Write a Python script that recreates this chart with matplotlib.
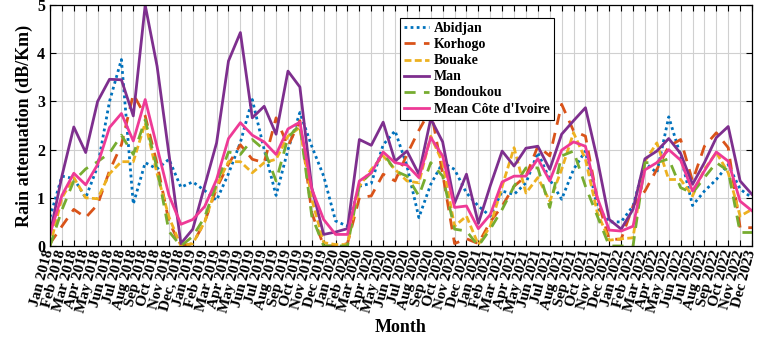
import numpy as np
import matplotlib
matplotlib.use("Agg")
import matplotlib.pyplot as plt

# === DATOS: atenuación por lluvia mensual (dB/Km) ===
months = ["Jan 2018", "Feb 2018", "Mar 2018", "Apr 2018", "May 2018", "Jun 2018",
          "Jul 2018", "Aug 2018", "Sep 2018", "Oct 2018", "Nov 2018", "Dec, 2018",
          "Jan 2019", "Feb 2019", "Mar 2019", "Apr 2019", "May 2019", "Jun 2019",
          "Jul 2019", "Aug 2019", "Sep 2019", "Oct 2019", "Nov 2019", "Dec 2019",
          "Jan 2020", "Feb 2020", "Mar 2020", "Apr 2020", "May 2020", "Jun 2020",
          "Jul 2020", "Aug 2020", "Sep 2020", "Oct 2020", "Nov 2020", "Dec 2020",
          "Jan 2021", "Feb 2021", "Mar 2021", "Apr 2021", "May 2021", "Jun 2021",
          "Jul 2021", "Aug 2021", "Sep 2021", "Oct 2021", "Nov 2021", "Dec 2021",
          "Jan 2022", "Feb 2022", "Mar 2022", "Apr 2022", "May 2022", "Jun 2022",
          "Jul 2022", "Aug 2022", "Sep 2022", "Oct 2022", "Nov 2022", "Dec 2023"]

abidjan = [0.6, 1.45, 1.4, 1.0, 1.65, 3.0, 3.87, 0.87, 1.73, 1.6, 1.8, 1.22,
           1.33, 1.15, 0.95, 1.5, 2.15, 3.04, 2.0, 1.05, 2.0, 2.77, 2.07, 1.45,
           0.52, 0.41, 1.24, 1.3, 2.1, 2.39, 1.66, 0.59, 1.28, 1.73, 1.59, 1.1,
           0.83, 0.62, 1.14, 1.07, 1.31, 1.94, 1.38, 0.97, 1.59, 1.97, 0.8, 0.5,
           0.5, 0.83, 1.73, 1.52, 2.68, 1.87, 0.84, 1.14, 1.38, 1.69, 1.18, 1.0]

korhogo = [0.05, 0.41, 0.76, 0.59, 0.86, 1.56, 2.1, 3.15, 2.7, 1.7, 0.5, 0.0,
           0.05, 0.5, 1.2, 1.7, 2.1, 1.8, 1.73, 2.66, 2.07, 2.6, 0.69, 0.0,
           0.0, 0.05, 1.0, 1.04, 1.49, 1.35, 1.9, 2.4, 2.84, 1.5, 0.05, 0.15,
           0.05, 0.5, 0.83, 1.24, 1.45, 2.07, 1.87, 2.94, 2.39, 2.28, 0.97, 0.14,
           0.14, 0.83, 1.14, 1.59, 2.07, 2.21, 1.35, 2.07, 2.35, 2.04, 0.38, 0.38]

bouake = [0.0, 1.0, 1.42, 1.0, 0.98, 1.5, 1.75, 1.75, 2.55, 1.5, 0.6, 0.0,
          0.05, 0.5, 1.25, 1.75, 1.75, 1.52, 1.73, 1.8, 2.28, 2.46, 0.97, 0.07,
          0.03, 0.03, 1.24, 1.59, 1.87, 1.59, 1.35, 1.31, 2.28, 1.73, 0.41, 0.62,
          0.03, 0.41, 1.24, 2.04, 1.1, 1.42, 0.93, 1.59, 2.35, 1.8, 0.69, 0.12,
          0.15, 0.17, 1.76, 2.14, 1.38, 1.38, 1.04, 1.59, 1.94, 1.52, 0.62, 0.76]

man = [0.25, 1.45, 2.47, 1.94, 3.0, 3.46, 3.45, 2.7, 5.0, 3.73, 1.9, 0.05,
       0.35, 1.25, 2.14, 3.84, 4.43, 2.66, 2.9, 2.32, 3.63, 3.3, 1.21, 0.24,
       0.29, 0.36, 2.21, 2.09, 2.57, 1.76, 1.97, 1.49, 2.64, 2.16, 0.89, 1.49,
       0.47, 1.25, 1.97, 1.66, 2.03, 2.07, 1.59, 2.32, 2.6, 2.87, 1.8, 0.55,
       0.35, 0.76, 1.81, 1.97, 2.23, 1.92, 1.28, 1.73, 2.25, 2.48, 1.35, 1.07]

bondoukou = [0.0, 0.75, 1.35, 1.6, 1.75, 1.93, 2.3, 1.9, 2.62, 1.6, 0.3, 0.0,
             0.2, 0.6, 1.3, 1.95, 1.9, 2.21, 2.0, 1.35, 2.25, 2.52, 0.62, 0.0,
             0.0, 0.0, 1.28, 1.52, 1.94, 1.56, 1.45, 1.04, 1.73, 1.45, 0.35, 0.31,
             0.0, 0.35, 0.76, 1.24, 1.62, 1.62, 0.8, 1.87, 1.97, 1.24, 0.62, 0.0,
             0.0, 0.0, 1.73, 1.73, 1.81, 1.21, 1.1, 1.42, 1.73, 1.56, 0.28, 0.28]

mean_ci = [0.25, 1.05, 1.51, 1.27, 1.69, 2.46, 2.75, 2.18, 3.04, 2.05, 1.05, 0.45,
           0.55, 0.82, 1.38, 2.23, 2.56, 2.3, 2.16, 1.9, 2.43, 2.57, 1.18, 0.55,
           0.24, 0.24, 1.35, 1.52, 1.95, 1.73, 1.68, 1.42, 2.25, 1.87, 0.8, 0.83,
           0.36, 0.65, 1.33, 1.45, 1.45, 1.81, 1.35, 1.99, 2.16, 2.07, 1.0, 0.33,
           0.31, 0.41, 1.58, 1.73, 2.0, 1.78, 1.14, 1.56, 1.95, 1.76, 0.93, 0.73]

# === ESTILO ===
plt.rcParams["font.family"] = ["Liberation Serif", "DejaVu Serif"]
plt.rcParams["font.weight"] = "bold"

x = np.arange(len(months))

fig = plt.figure(figsize=(7.6, 3.4), dpi=100)
ax = fig.add_axes([0.0658, 0.2765, 0.9237, 0.7085])

lw = 2.0
ax.plot(x, abidjan, color="#0072BD", lw=lw, linestyle=(0, (1, 1.2)), label="Abidjan")
ax.plot(x, korhogo, color="#D95319", lw=lw, linestyle=(0, (4, 3)), label="Korhogo")
ax.plot(x, bouake, color="#EDB120", lw=lw, linestyle=(0, (2.5, 1.2)), label="Bouake")
ax.plot(x, man, color="#7E2F8E", lw=lw, linestyle="-", label="Man")
ax.plot(x, bondoukou, color="#77AC30", lw=lw, linestyle=(0, (4, 3)), label="Bondoukou")
ax.plot(x, mean_ci, color="#EE3A96", lw=lw, linestyle="-", label="Mean Côte d'Ivoire")

ax.set_xlim(0, len(months) - 1)
ax.set_ylim(0, 5)
ax.set_xticks(x)
ax.set_xticklabels(months, rotation=75, ha="right", va="center",
                   rotation_mode="anchor", fontsize=11, fontweight="bold")
ax.set_yticks(range(6))
ax.tick_params(axis="y", labelsize=11.5)
ax.tick_params(direction="in", top=True, right=True, length=4, width=0.8)
ax.tick_params(axis="x", pad=3)
ax.grid(True, color="#d0d0d0", linewidth=0.8)
ax.set_axisbelow(True)
for s in ax.spines.values():
    s.set_linewidth(0.9)

ax.set_ylabel("Rain attenuation (dB/Km)", fontsize=13, fontweight="bold", labelpad=3)
ax.set_xlabel("Month", fontsize=13, fontweight="bold", labelpad=4)

leg = ax.legend(loc="upper left", bbox_to_anchor=(0.4986, 0.946), fontsize=10,
                frameon=True, fancybox=False, edgecolor="black", framealpha=1,
                borderpad=0.3, labelspacing=0.22, handlelength=1.8, handletextpad=0.35,
                borderaxespad=0)
leg.get_frame().set_linewidth(0.8)

fig.savefig("out.png", dpi=100)
